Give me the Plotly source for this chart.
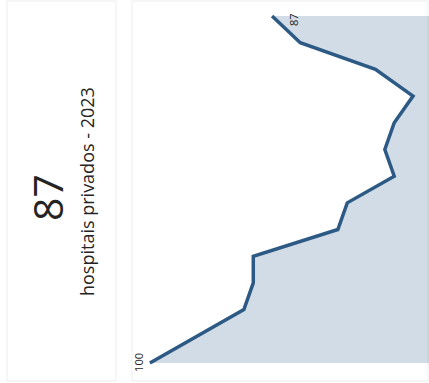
import plotly.graph_objects as go

# Sparkline data: number of private hospitals per year
years = [2010, 2011, 2012, 2013, 2014, 2015, 2016, 2017, 2018, 2019, 2020, 2021, 2022, 2023]
hospitals = [100, 95, 90, 89, 89, 80, 79, 74, 75, 74, 72, 76, 84, 87]

kpi_value = "87"
kpi_label = "hospitais privados - 2023"

W, H = 429, 383
LINE = '#2d5a84'
FILL = 'rgba(209,220,230,1)'
TEXT = '#252423'


def px(x):
    # screen pixel -> paper coordinate
    return x / W


def py(y):
    return 1 - y / H


fig = go.Figure()

# The whole card is drawn turned on its side: time runs bottom -> top,
# value runs right -> left
fig.add_trace(
    go.Scatter(
        x=hospitals,
        y=years,
        mode='lines',
        line=dict(color=LINE, width=3.5),
        fill='tozerox',
        fillcolor=FILL,
        hoverinfo='skip',
        showlegend=False,
    )
)

annotations = [
    # big KPI number
    dict(x=px(47), y=py(198), xref='paper', yref='paper', text=kpi_value,
         showarrow=False, textangle=-90, xanchor='center', yanchor='middle',
         font=dict(size=41, color=TEXT, family='Open Sans')),
    # KPI caption
    dict(x=px(87), y=py(192), xref='paper', yref='paper', text=kpi_label,
         showarrow=False, textangle=-90, xanchor='center', yanchor='middle',
         font=dict(size=18, color=TEXT, family='Open Sans')),
    # first / last data labels
    dict(x=hospitals[0], y=years[0], xref='x', yref='y', text=str(hospitals[0]),
         showarrow=False, textangle=-90, xshift=-11, yshift=1,
         xanchor='center', yanchor='middle',
         font=dict(size=11, color=TEXT, family='Open Sans')),
    dict(x=hospitals[-1], y=years[-1], xref='x', yref='y', text=str(hospitals[-1]),
         showarrow=False, textangle=-90, xshift=21, yshift=-4,
         xanchor='center', yanchor='middle',
         font=dict(size=11, color=TEXT, family='Open Sans')),
]

# faint card outlines
border = 'rgba(0,0,0,0.07)'
shapes = [
    dict(type='rect', xref='paper', yref='paper', x0=px(7), x1=px(116),
         y0=py(381), y1=py(1), line=dict(color=border, width=1)),
    dict(type='rect', xref='paper', yref='paper', x0=px(132), x1=px(428),
         y0=py(381), y1=py(1), line=dict(color=border, width=1)),
]

fig.update_layout(
    width=W,
    height=H,
    margin=dict(l=0, r=0, t=0, b=0),
    paper_bgcolor='white',
    plot_bgcolor='rgba(0,0,0,0)',
    annotations=annotations,
    shapes=shapes,
    xaxis=dict(
        domain=[px(133), 1],
        range=[101.8, 70.3],
        visible=False,
        fixedrange=True,
    ),
    yaxis=dict(
        domain=[0, 1],
        range=[2009.25, 2023.6],
        visible=False,
        fixedrange=True,
    ),
)

# drop the default page margin so the card lines up with the window
fig.write_html(
    "out.html",
    config={'displayModeBar': False},
    post_script="document.body.style.margin='0';document.body.style.overflow='hidden';",
)
